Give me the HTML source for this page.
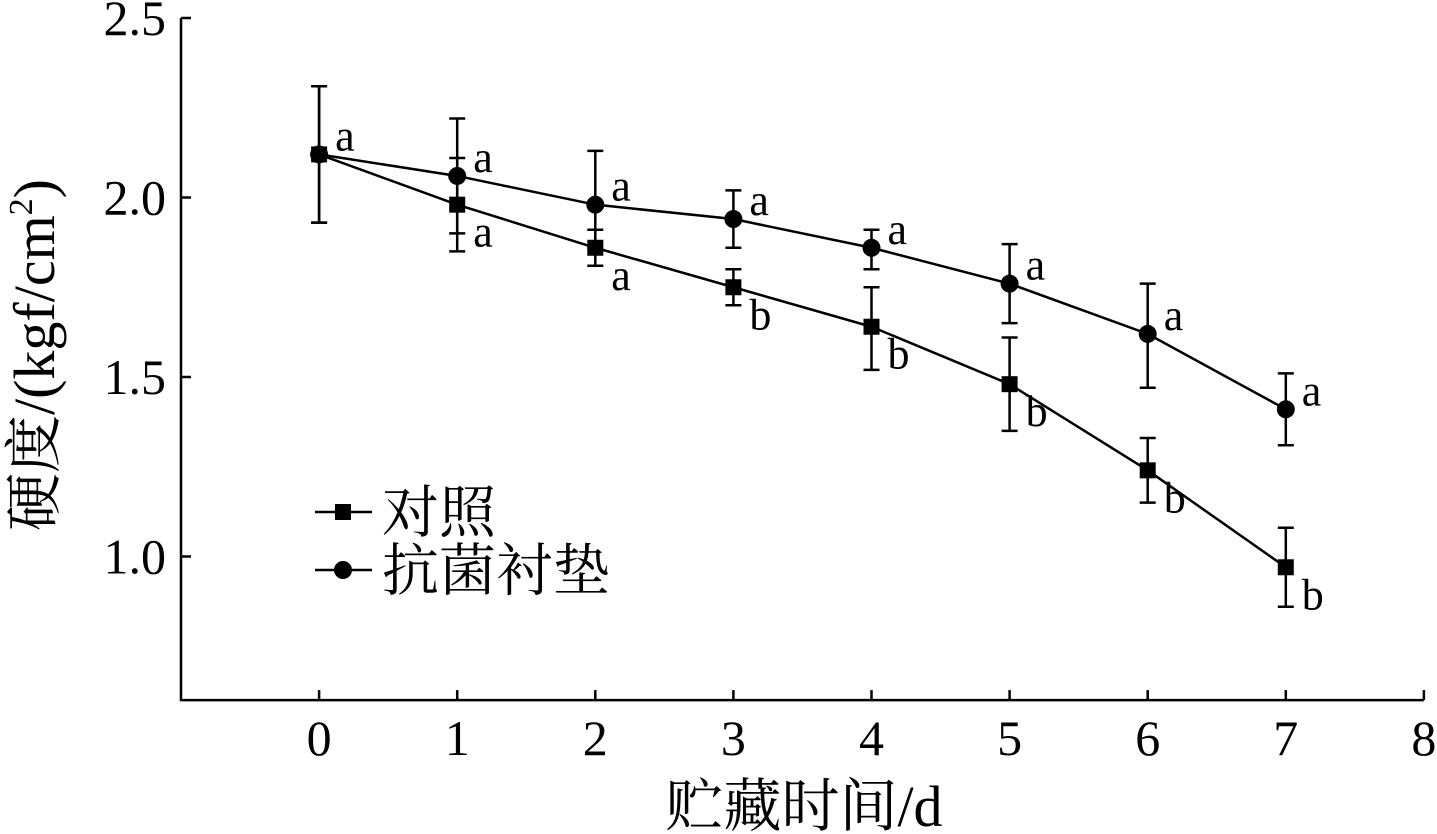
<!DOCTYPE html>
<html><head><meta charset="utf-8">
<style>
html,body{margin:0;padding:0;background:#fff;}
svg{display:block;}
text{font-family:"Liberation Serif","Noto Serif CJK SC",serif;fill:#000;}
</style></head>
<body>
<svg id="chart" width="1437" height="834" viewBox="0 0 1437 834"></svg>
<script>
const days=[0,1,2,3,4,5,6,7];
const controlMean=[2.12,1.98,1.86,1.75,1.64,1.48,1.24,0.97];
const controlHi=[2.31,2.11,1.91,1.80,1.75,1.61,1.33,1.08];
const controlLo=[1.93,1.85,1.81,1.70,1.52,1.35,1.15,0.86];
const controlSig=['','a','a','b','b','b','b','b'];
const treatMean=[2.12,2.06,1.98,1.94,1.86,1.76,1.62,1.41];
const treatHi=[2.31,2.22,2.13,2.02,1.91,1.87,1.76,1.51];
const treatLo=[1.93,1.90,1.86,1.86,1.80,1.65,1.47,1.31];
const treatSig=['a','a','a','a','a','a','a','a'];
const xTicks=[0,1,2,3,4,5,6,7,8];
const yTicks=[1.0,1.5,2.0,2.5];

const NS='http://www.w3.org/2000/svg';
const svg=document.getElementById('chart');
const X=v=>181+(v+1)*138.1;
const Y=v=>18+(2.5-v)*359;
function mk(tag,attrs,parent){const e=document.createElementNS(NS,tag);for(const k in attrs)e.setAttribute(k,attrs[k]);(parent||svg).appendChild(e);return e;}

const axes=mk('g',{});


mk('path',{d:`M181 ${Y(2.5)} V${Y(0.6)} H${X(8)}`,fill:'none',stroke:'#000','stroke-width':2.5},axes);
xTicks.forEach(t=>{
  mk('line',{x1:X(t),x2:X(t),y1:Y(0.6),y2:Y(0.6)-10,stroke:'#000','stroke-width':2.5},axes);
  const tx=mk('text',{x:X(t),y:755,'text-anchor':'middle','font-size':50},axes);
  tx.textContent=t;
  
  
});
yTicks.forEach(t=>{
  mk('line',{x1:181,x2:191,y1:Y(t),y2:Y(t),stroke:'#000','stroke-width':2.5},axes);
  const tx=mk('text',{x:166,y:Y(t)+17,'text-anchor':'end','font-size':50},axes);
  tx.textContent=t.toFixed(1);
  
  
});
const xt=mk('text',{x:804,y:826,'text-anchor':'middle','font-size':58});
xt.textContent='贮藏时间/d';


const yt=mk('text',{x:0,y:0,'text-anchor':'middle','font-size':58,transform:'translate(54,355) rotate(-90)'});
yt.innerHTML='硬度/(kgf/cm<tspan font-size="34" dy="-22">2</tspan><tspan dy="22">)</tspan>';



function series(mean,hi,lo,sig,shape,name,labelOff){
  const g=mk('g',{});
  
  
  mk('polyline',{points:days.map((d,i)=>X(d)+','+Y(mean[i])).join(' '),fill:'none',stroke:'#000','stroke-width':2.5},g);
  days.forEach((d,i)=>{
    const x=X(d);
    mk('path',{d:`M${x} ${Y(hi[i])}V${Y(lo[i])}M${x-8} ${Y(hi[i])}H${x+8}M${x-8} ${Y(lo[i])}H${x+8}`,stroke:'#000','stroke-width':2.5,fill:'none'},g);
    let m;
    if(shape==='sq') m=mk('rect',{x:x-8,y:Y(mean[i])-8,width:16,height:16,fill:'#000'},g);
    else m=mk('circle',{cx:x,cy:Y(mean[i]),r:9,fill:'#000'},g);
    
    
    const t=mk('text',{x:x+16,y:Y(mean[i])+labelOff,'font-size':44},g);
    t.textContent=sig[i];
    
    
  });
}
series(controlMean,controlHi,controlLo,controlSig,'sq','control-series',42);
series(treatMean,treatHi,treatLo,treatSig,'ci','treatment-series',-4);

const lg=mk('g',{});


mk('line',{x1:315,x2:372,y1:512,y2:512,stroke:'#000','stroke-width':2.5},lg);
mk('rect',{x:335,y:504,width:16,height:16,fill:'#000'},lg);
const l1=mk('text',{x:382,y:532,'font-size':57},lg);l1.textContent='对照';


mk('line',{x1:315,x2:372,y1:570,y2:570,stroke:'#000','stroke-width':2.5},lg);
mk('circle',{cx:343,cy:570,r:9,fill:'#000'},lg);
const l2=mk('text',{x:382,y:590,'font-size':57},lg);l2.textContent='抗菌衬垫';


</script>
</body></html>
